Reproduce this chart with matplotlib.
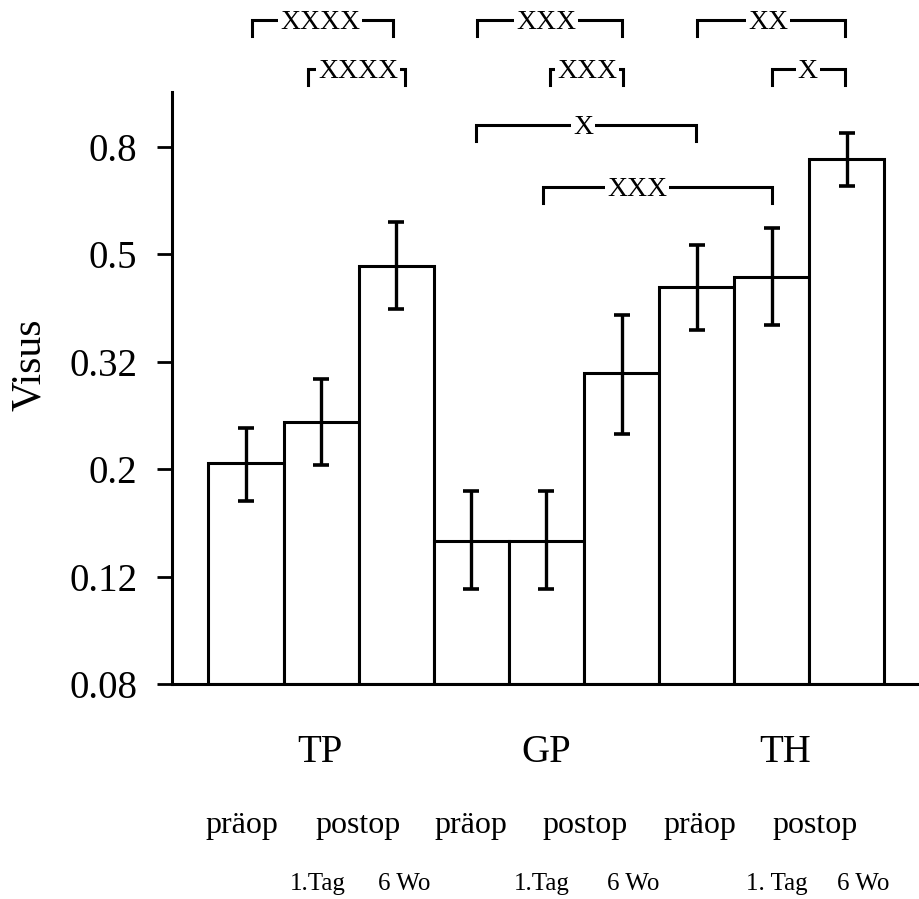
import matplotlib
matplotlib.use("Agg")
import matplotlib.pyplot as plt
import matplotlib.transforms as mtransforms
import numpy as np

plt.rcParams['font.family'] = ['Liberation Serif', 'DejaVu Serif']

# === Data ===
groups = ["TP", "GP", "TH"]
phases = ["präop", "postop"]
postop_times = ["1.Tag", "6 Wo"]
visus = [0.206, 0.246, 0.480, 0.148, 0.148, 0.303, 0.439, 0.458, 0.760]
err_low = [0.175, 0.205, 0.399, 0.120, 0.120, 0.234, 0.365, 0.373, 0.677]
err_high = [0.240, 0.296, 0.580, 0.183, 0.183, 0.389, 0.526, 0.566, 0.850]

ytick_vals = 0.08 * 10 ** (0.2 * np.arange(6))
ytick_labels = ["0.08", "0.12", "0.2", "0.32", "0.5", "0.8"]

# significance brackets: (from bar, to bar, label, label pos, row)
brackets = [
    (0.08, 1.96, "XXXX", 0.99, 0),
    (3.08, 5.00, "XXX", 4.00, 0),
    (6.00, 7.98, "XX", 6.95, 0),
    (0.83, 2.12, "XXXX", 1.49, 1),
    (4.05, 5.02, "XXX", 4.54, 1),
    (7.00, 7.98, "X", 7.48, 1),
    (3.06, 5.99, "X", 4.49, 2),
    (3.95, 7.00, "XXX", 5.21, 3),
]

W, H = 919, 899
def fy(px):
    return 1 - px / H

fig = plt.figure(figsize=(W / 100, H / 100), dpi=100)
ax = fig.add_axes([172 / W, fy(684), (W - 172) / W, (684 - 92) / H])

x = np.arange(len(visus))
v = np.array(visus)
ax.bar(x, v - 0.08, bottom=0.08, width=1.0, color="white",
       edgecolor="black", linewidth=2.2, zorder=2)
yerr = [v - np.array(err_low), np.array(err_high) - v]
ax.errorbar(x, v, yerr=yerr, fmt="none", ecolor="black", elinewidth=2.4,
            capsize=5.5, capthick=2.6, zorder=3)

ax.set_yscale("log")
ax.set_ylim(0.08, 1.013)
ax.set_xlim(-0.985, 8.96)
ax.set_yticks(ytick_vals)
ax.set_yticklabels(ytick_labels, fontsize=28)
ax.yaxis.set_minor_locator(matplotlib.ticker.NullLocator())
ax.tick_params(axis="y", direction="out", length=11, width=2, pad=14)
ax.set_xticks([])
for side in ["top", "right"]:
    ax.spines[side].set_visible(False)
ax.spines["left"].set_linewidth(2.2)
ax.spines["bottom"].set_linewidth(2.2)

fig.text(30 / W, fy(365), "Visus", rotation=90, fontsize=30,
         ha="center", va="center")

# === Category labels under the axis ===
trans = mtransforms.blended_transform_factory(ax.transData, fig.transFigure)
for g, gx in zip(groups, [0.99, 4.0, 7.18]):
    fig.text(gx, fy(752), g, transform=trans, fontsize=28, ha="center", va="center")
for i, px in enumerate([-0.05, 1.49, 3.0, 4.51, 6.05, 7.58]):
    fig.text(px, fy(826), phases[i % 2], transform=trans, fontsize=23,
             ha="center", va="center")
time_labels = ["1.Tag", "6 Wo", "1.Tag", "6 Wo", "1. Tag", "6 Wo"]
for lbl, px in zip(time_labels, [0.95, 2.1, 3.94, 5.15, 7.07, 8.22]):
    fig.text(px, fy(884), lbl, transform=trans, fontsize=18,
             ha="center", va="center")

# === Significance brackets ===
row_px = [20, 69, 125, 187]
tick_px = 16
for x0, x1, lbl, lx, row in brackets:
    y0 = fy(row_px[row])
    y1 = fy(row_px[row] + tick_px)
    ax.plot([x0, x0, x1, x1], [y1, y0, y0, y1], color="black", lw=2.2,
            transform=trans, clip_on=False, solid_joinstyle="miter", zorder=4)
    fig.text(lx, fy(row_px[row] + 9), lbl, transform=trans, fontsize=20,
             ha="center", va="baseline", zorder=5,
             bbox=dict(facecolor="white", edgecolor="none", pad=1.5))

fig.savefig("out.png", dpi=100)
